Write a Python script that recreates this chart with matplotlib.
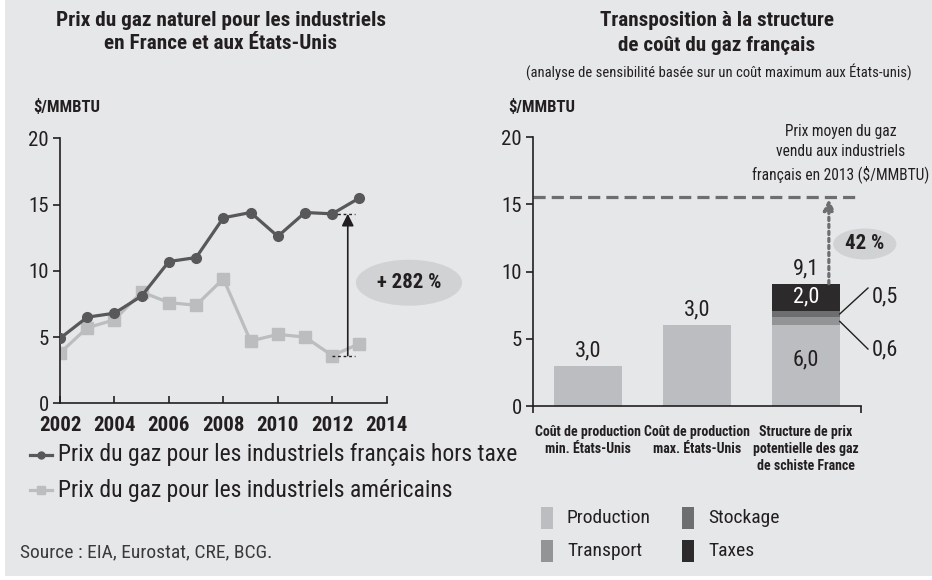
import matplotlib
matplotlib.use("Agg")
import matplotlib.pyplot as plt
from matplotlib.patches import Ellipse, Rectangle

plt.rcParams['font.family'] = ['Roboto Condensed', 'DejaVu Sans']

# left chart data
years = [2002, 2003, 2004, 2005, 2006, 2007, 2008, 2009, 2010, 2011, 2012, 2013]
prix_fr = [4.9, 6.5, 6.8, 8.1, 10.7, 11.0, 14.0, 14.4, 12.6, 14.4, 14.3, 15.5]
prix_us = [3.8, 5.7, 6.3, 8.4, 7.6, 7.4, 9.4, 4.7, 5.2, 5.0, 3.6, 4.5]

# right chart data
categories = ["Coût de production\nmin. États-Unis",
              "Coût de production\nmax. États-Unis",
              "Structure de prix\npotentielle des gaz\nde schiste France"]
production = [3.0, 6.0, 6.0]
transport = [0, 0, 0.6]
stockage = [0, 0, 0.5]
taxes = [0, 0, 2.0]
bar_labels = ["3,0", "3,0", "9,1"]
prix_moyen_fr = 15.55

BG = '#e6e7e9'
INK = '#231f20'
W, H = 932, 580

fig = plt.figure(figsize=(W / 100, H / 100), dpi=100, facecolor='white')
fig.patches.append(Rectangle((5 / W, 4 / H), 1, 1, transform=fig.transFigure,
                             facecolor=BG, edgecolor='none', zorder=-10))

def fx(px):
    return px / W

def fy(py):
    return 1 - py / H

# ---------- left chart ----------
ax1 = fig.add_axes([60 / W, (H - 403.3) / H, 326.7 / W, 265 / H])
ax1.set_facecolor('none')
ax1.plot(years, prix_fr, color='#58585a', lw=2.3, marker='o', ms=7, zorder=3)
ax1.plot(years, prix_us, color='#bcbdbf', lw=2.3, marker='s', ms=8, zorder=2)
ax1.set_xlim(2002, 2014)
ax1.set_ylim(0, 20)
ax1.set_xticks(range(2002, 2015, 2))
ax1.set_yticks([0, 5, 10, 15, 20])
for s in ['top', 'right']:
    ax1.spines[s].set_visible(False)
for s in ['left', 'bottom']:
    ax1.spines[s].set_color(INK)
    ax1.spines[s].set_linewidth(1.2)
ax1.tick_params(axis='y', direction='out', length=5, width=1.2, color=INK,
                labelsize=15, labelcolor=INK, pad=3)
ax1.tick_params(axis='x', direction='in', length=5, width=1.2, color=INK,
                labelsize=15, labelcolor=INK, pad=9)
for t in ax1.get_xticklabels():
    t.set_fontweight('bold')

# +282 % annotation
x_arr = 2012.57
ax1.plot([2012, 2012.85], [prix_us[10], prix_us[10]], color=INK, lw=1, ls=(0, (2, 2)))
ax1.plot([2012, 2012.85], [prix_fr[10], prix_fr[10]], color=INK, lw=1, ls=(0, (2, 2)))
ax1.annotate('', xy=(x_arr, prix_fr[10]), xytext=(x_arr, prix_us[10]),
             arrowprops=dict(arrowstyle='-|>', color=INK, lw=1.2, mutation_scale=18,
                             shrinkA=0, shrinkB=0))
ax1.add_patch(Ellipse((2014.82, 9.1), 3.9, 3.47, facecolor='#d1d2d4',
                      edgecolor='none', clip_on=False))
ax1.text(2014.82, 9.1, '+ 282 %', ha='center', va='center', fontsize=15,
         fontweight='bold', color=INK)

# legend left
for py, col, mk, ms, lab in [(455, '#58585a', 'o', 5, "Prix du gaz pour les industriels français hors taxe"),
                             (490, '#bcbdbf', 's', 6, "Prix du gaz pour les industriels américains")]:
    fig.add_artist(plt.Line2D([fx(30), fx(52)], [fy(py), fy(py)], color=col, lw=2.3,
                              transform=fig.transFigure))
    fig.add_artist(plt.Line2D([fx(41)], [fy(py)], color=col, marker=mk, ms=ms,
                              transform=fig.transFigure))
    fig.text(fx(58), fy(py), lab, fontsize=17, color=INK, va='center', ha='left')

fig.text(fx(221), fy(32), "Prix du gaz naturel pour les industriels\nen France et aux États-Unis",
         ha='center', va='center', fontsize=15.3, fontweight='bold', color=INK, linespacing=1.3)
fig.text(fx(33), fy(107), "$/MMBTU", ha='left', va='center', fontsize=12,
         fontweight='bold', color=INK)
fig.text(fx(20), fy(552), "Source : EIA, Eurostat, CRE, BCG.", ha='left', va='center',
         fontsize=14, color='#3a3a3c')

# ---------- right chart ----------
ax2 = fig.add_axes([533 / W, (H - 406) / H, 328 / W, 268.7 / H])
ax2.set_facecolor('none')
pos = [0, 1, 2]
bw = 0.62
c_prod, c_trans, c_stock, c_tax = '#bcbdc0', '#939496', '#6d6e70', '#2d2a2b'
ax2.bar(pos, production, bw, color=c_prod)
bot = [p for p in production]
ax2.bar(pos, transport, bw, bottom=bot, color=c_trans)
bot = [b + t for b, t in zip(bot, transport)]
ax2.bar(pos, stockage, bw, bottom=bot, color=c_stock)
bot = [b + s for b, s in zip(bot, stockage)]
ax2.bar(pos, taxes, bw, bottom=bot, color=c_tax)
tops = [b + t for b, t in zip(bot, taxes)]
ax2.set_xlim(-0.505, 2.505)
ax2.set_ylim(0, 20)
ax2.set_yticks([0, 5, 10, 15, 20])
ax2.set_xticks(pos)
ax2.set_xticklabels(categories, fontsize=10, fontweight='bold', color=INK, linespacing=1.25)
ax2.set_xticks([-0.505, 2.505], minor=True)
for s in ['top', 'right']:
    ax2.spines[s].set_visible(False)
for s in ['left', 'bottom']:
    ax2.spines[s].set_color(INK)
    ax2.spines[s].set_linewidth(1.2)
ax2.tick_params(axis='y', direction='out', length=5, width=1.2, color=INK,
                labelsize=15, labelcolor=INK, pad=3)
ax2.tick_params(axis='x', which='major', length=0, pad=14)
ax2.tick_params(axis='x', which='minor', direction='out', length=5, width=1.2, color=INK)

for p, t, lab in zip(pos, tops, bar_labels):
    ax2.text(p, t + 0.35, lab, ha='center', va='bottom', fontsize=16, color=INK)
ax2.text(2, production[2] + transport[2] + stockage[2] + taxes[2] / 2, "2,0",
         ha='center', va='center', fontsize=16, color='white')
ax2.text(2, 3.4, "6,0", ha='center', va='center', fontsize=16, color=INK)

# side labels for small segments
y_stock = production[2] + transport[2] + stockage[2] / 2
y_trans = production[2] + transport[2] / 2
ax2.plot([2 + bw / 2, 2.569], [y_stock, 8.78], color=INK, lw=1, clip_on=False)
ax2.plot([2 + bw / 2, 2.569], [y_trans, 4.24], color=INK, lw=1, clip_on=False)
ax2.text(2.6, 8.1, "0,5", ha='left', va='center', fontsize=16, color=INK)
ax2.text(2.6, 4.15, "0,6", ha='left', va='center', fontsize=16, color=INK)

# reference price line
ax2.plot([-0.505, 2.46], [prix_moyen_fr, prix_moyen_fr], color='#6d6e70', lw=2.3,
         ls=(0, (3.8, 1.9)), clip_on=False)
ax2.annotate('', xy=(2.21, prix_moyen_fr - 0.15), xytext=(2.21, tops[2]),
             arrowprops=dict(arrowstyle='-|>', color='#6d6e70', lw=2.3, ls=(0, (1, 1.2)),
                             mutation_scale=16, shrinkA=0, shrinkB=0))
ax2.add_patch(Ellipse((2.54, 12.06), 0.58, 2.3, facecolor='#d1d2d4', edgecolor='none',
                      clip_on=False))
ax2.text(2.54, 12.06, "42 %", ha='center', va='center', fontsize=15, fontweight='bold',
         color=INK)
ax2.text(2.32, 18.8, "Prix moyen du gaz\nvendu aux industriels\nfrançais en 2013 ($/MMBTU)",
         ha='center', va='center', fontsize=11.2, color=INK, linespacing=1.45)

fig.text(fx(717), fy(33), "Transposition à la structure\nde coût du gaz français",
         ha='center', va='center', fontsize=15.2, fontweight='bold', color=INK, linespacing=1.35)
fig.text(fx(719), fy(72), "(analyse de sensibilité basée sur un coût maximum aux États-unis)",
         ha='center', va='center', fontsize=10.5, color=INK)
fig.text(fx(508), fy(107), "$/MMBTU", ha='left', va='center', fontsize=12,
         fontweight='bold', color=INK)

# legend right
for px, py, col, lab in [(541, 518, c_prod, "Production"), (682, 518, c_stock, "Stockage"),
                         (541, 551, c_trans, "Transport"), (682, 551, c_tax, "Taxes")]:
    fig.patches.append(Rectangle((fx(px), fy(py + 11)), 12 / W, 22 / H,
                                 transform=fig.transFigure, facecolor=col, edgecolor='none'))
    fig.text(fx(px + 26), fy(py), lab, ha='left', va='center', fontsize=14, color=INK)

fig.savefig('out.png', dpi=100, facecolor='white')
